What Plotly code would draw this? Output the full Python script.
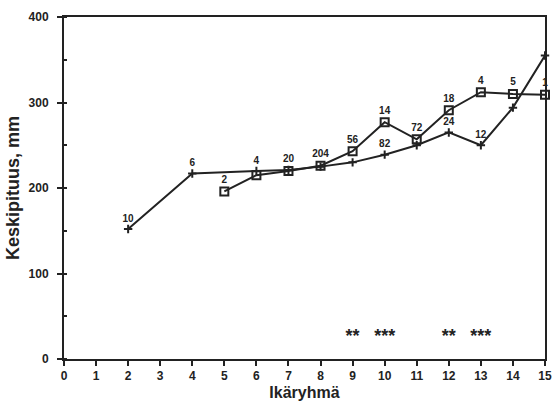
import plotly.graph_objects as go

# Series A (small cross markers)
age_a = [2, 4, 6, 7, 8, 9, 10, 11, 12, 13, 14, 15]
len_a = [152, 217, 220, 221, 225, 230, 239, 250, 265, 250, 294, 355]
lab_a = ["10", "6", "4", "", "", "", "82", "", "24", "12", "", ""]

# Series B (open squares)
age_b = [5, 6, 7, 8, 9, 10, 11, 12, 13, 14, 15]
len_b = [196, 215, 220, 226, 243, 277, 257, 291, 312, 310, 309]
lab_b = ["2", "", "20", "204", "56", "14", "72", "18", "4", "5", "1"]

# Significance marks
sig_x = [9, 10, 12, 13]
sig_txt = ["**", "***", "**", "***"]
sig_y = [25, 25, 25, 25]

ink = "#222222"
fnt = dict(family="Liberation Sans", size=10, color=ink, weight="bold")

fig = go.Figure()
fig.add_trace(go.Scatter(
    x=age_a, y=len_a, mode="lines+markers+text", text=lab_a,
    textposition="top center", textfont=fnt, cliponaxis=False,
    line=dict(color=ink, width=2),
    marker=dict(symbol="cross-thin", size=6, line=dict(color=ink, width=2)),
    showlegend=False))
fig.add_trace(go.Scatter(
    x=age_b, y=len_b, mode="lines+markers+text", text=lab_b,
    textposition="top center", textfont=fnt, cliponaxis=False,
    line=dict(color=ink, width=2),
    marker=dict(symbol="square-open", size=8, color=ink, line=dict(width=2)),
    showlegend=False))
fig.add_trace(go.Scatter(
    x=sig_x, y=sig_y, mode="text", text=sig_txt,
    textfont=dict(family="Liberation Sans", size=18, color=ink, weight="bold"),
    showlegend=False))

fig.update_layout(
    width=554, height=410,
    margin=dict(l=64, r=9, t=17, b=51),
    paper_bgcolor="white", plot_bgcolor="white",
    font=dict(family="Liberation Sans", color=ink),
)
fig.update_xaxes(
    range=[0, 15], tickmode="linear", tick0=0, dtick=1, automargin=False,
    showgrid=False, zeroline=False,
    showline=True, linewidth=2, linecolor=ink, mirror=True,
    ticks="outside", ticklen=5, tickwidth=2, tickcolor=ink,
    tickfont=dict(family="Liberation Sans", size=12, color=ink, weight="bold"),
    title=dict(text="Ikäryhmä", font=dict(family="Liberation Sans", size=16, color=ink, weight="bold"), standoff=4),
)
fig.update_yaxes(
    range=[0, 400], tickmode="linear", tick0=0, dtick=100, automargin=False,
    showgrid=False, zeroline=False,
    showline=True, linewidth=2, linecolor=ink, mirror=True,
    ticks="outside", ticklen=5, tickwidth=2, tickcolor=ink, ticklabelstandoff=6,
    minor=dict(dtick=50, ticks="inside", ticklen=3, tickcolor=ink),
    tickfont=dict(family="Liberation Sans", size=12, color=ink, weight="bold"),
    title=dict(text="Keskipituus, mm", font=dict(family="Liberation Sans", size=18, color=ink, weight="bold"), standoff=4),
)
fig.write_html("out.html", config={"displayModeBar": False},
               post_script="document.body.style.margin='0px';")
